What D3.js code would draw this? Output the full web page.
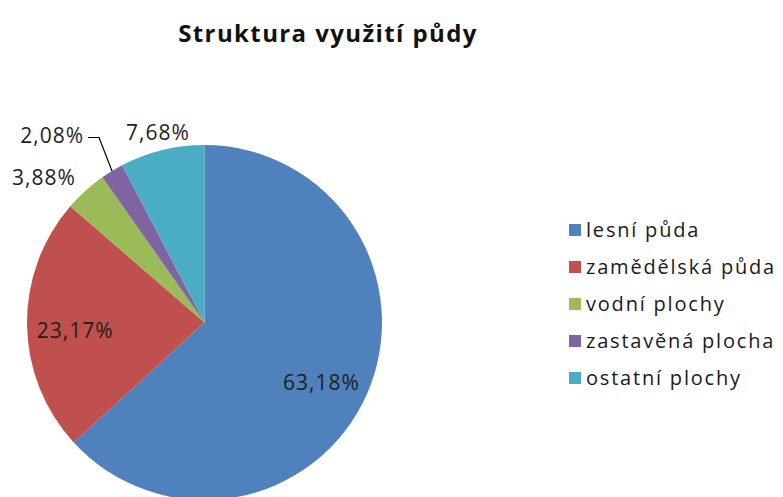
<!DOCTYPE html>
<html>
<head>
<meta charset="utf-8">
<script src="https://cdn.jsdelivr.net/npm/d3@7"></script>
<style>
  body { margin: 0; background: #fff; }
  svg { display: block; font-family: "Open Sans", "Noto Sans", sans-serif; }
</style>
</head>
<body>
<svg id="chart" width="783" height="497"></svg>
<script>
// chart data
const categories = ["lesní půda", "zamědělská půda", "vodní plochy", "zastavěná plocha", "ostatní plochy"];
const shares = [63.18, 23.17, 3.88, 2.08, 7.68];
const labels = ["63,18%", "23,17%", "3,88%", "2,08%", "7,68%"];
const colors = ["#4F81BD", "#C0504D", "#9BBB59", "#8064A2", "#4BACC6"];

const svg = d3.select("#chart");
const cx = 204.5, cy = 322.5, radius = 177.5;

svg.append("text")
    .attr("x", 328)
    .attr("y", 42)
    .attr("text-anchor", "middle")
    .style("font-size", "24px")
    .style("font-weight", "bold")
    .style("letter-spacing", "1.4px")
    .attr("fill", "#111")
    .text("Struktura využití půdy");

const pie = d3.pie().sort(null).value(d => d);
const arcs = pie(shares);
const arc = d3.arc().innerRadius(0).outerRadius(radius);

const g = svg.append("g").attr("transform", `translate(${cx},${cy})`);

g.selectAll("path.slice")
    .data(arcs)
    .enter().append("path")
    .attr("class", "slice")
    .attr("d", arc)
    .attr("fill", (d, i) => colors[i]);

// label placement: radial factor per slice (inside for the big ones, outside for the small)
const labelPos = [
    { k: 0.74, da: 0.06 },
    { k: 0.73, da: -0.05 },
    { k: 1.22, da: -0.10 },
    null,
    { k: 1.10, da: 0 }
];

arcs.forEach((d, i) => {
    const mid = (d.startAngle + d.endAngle) / 2;
    let x, y, anchor = "middle";
    if (labelPos[i]) {
        const a = mid + labelPos[i].da;
        x = Math.sin(a) * radius * labelPos[i].k;
        y = -Math.cos(a) * radius * labelPos[i].k;
    } else {
        // leader line to the small purple slice
        const ex = Math.sin(mid) * radius, ey = -Math.cos(mid) * radius;
        const bx = ex - 13, by = -185;
        g.append("polyline")
            .attr("points", [[ex, ey], [bx, by], [bx - 11, by]].map(p => p.join(",")).join(" "))
            .attr("fill", "none")
            .attr("stroke", "#000")
            .attr("stroke-width", 1.2);
        x = bx - 15;
        y = by - 2;
        anchor = "end";
    }
    g.append("text")
        .attr("x", x)
        .attr("y", y)
        .attr("dy", "0.35em")
        .attr("text-anchor", anchor)
        .style("font-size", "21px")
        .style("letter-spacing", "1px")
        .attr("fill", "#1f1f1f")
        .text(labels[i]);
});

// legend
const legend = svg.append("g").attr("transform", "translate(569,230)");
const rowStep = 37;
categories.forEach((c, i) => {
    const row = legend.append("g").attr("transform", `translate(0,${i * rowStep})`);
    row.append("rect")
        .attr("x", 0)
        .attr("y", -6)
        .attr("width", 12)
        .attr("height", 12)
        .attr("fill", colors[i]);
    row.append("text")
        .attr("x", 17)
        .attr("y", 0)
        .attr("dy", "0.35em")
        .style("font-size", "20px")
        .style("letter-spacing", "1.8px")
        .attr("fill", "#1a1a1a")
        .text(c);
});
</script>
</body>
</html>
